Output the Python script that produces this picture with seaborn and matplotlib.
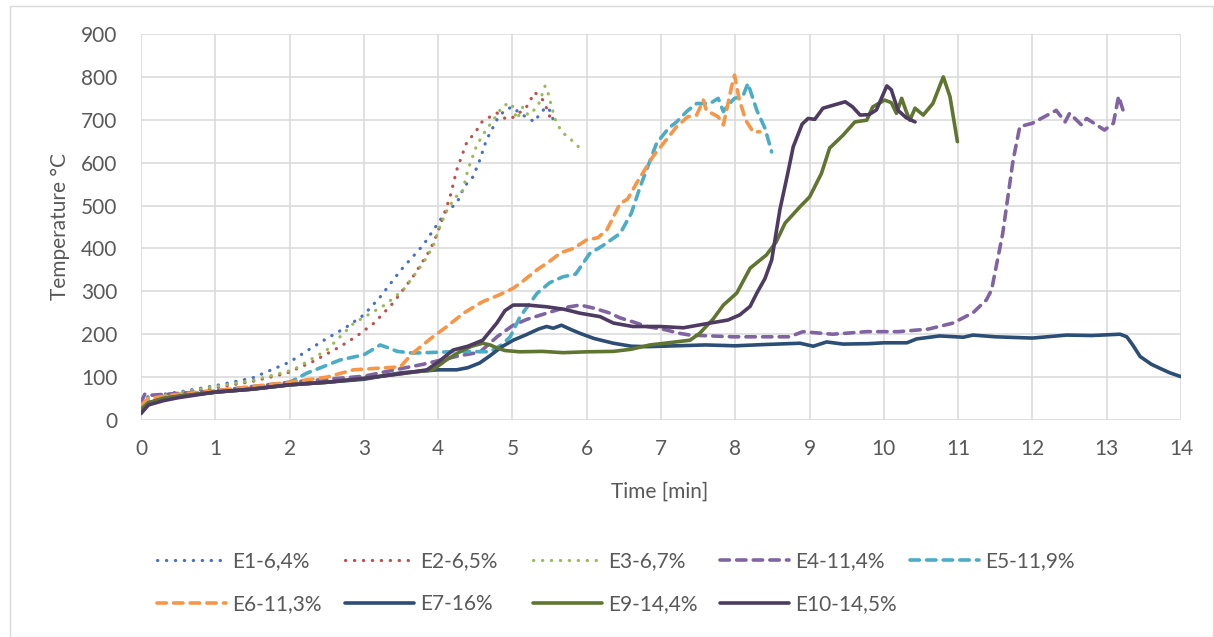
import numpy as np
import pandas as pd
import matplotlib
matplotlib.use("Agg")
import matplotlib.pyplot as plt
import seaborn as sns
from matplotlib.patches import Rectangle

# ---------------- data ----------------
names = ["E1-6,4%", "E2-6,5%", "E3-6,7%", "E4-11,4%", "E5-11,9%",
         "E6-11,3%", "E7-16%", "E9-14,4%", "E10-14,5%"]

e1_t = [0, 0.1, 0.5, 1, 1.5, 2, 2.25, 2.5, 2.75, 3, 3.22, 3.5, 3.8, 4.1, 4.25, 4.35, 4.47, 4.56,
        4.65, 4.72, 4.8, 4.9, 5.0, 5.1, 5.2, 5.3, 5.37, 5.46, 5.5, 5.55]
e1_T = [40, 55, 65, 80, 98, 135, 163, 190, 215, 245, 287, 350, 408, 485, 505, 544, 567, 606,
        653, 676, 703, 723, 730, 715, 705, 695, 715, 730, 722, 700]

e2_t = [0, 0.1, 0.5, 1, 1.5, 1.96, 2.3, 2.68, 2.9, 3.13, 3.22, 3.39, 3.66, 3.89, 3.98, 4.16, 4.25,
        4.38, 4.52, 4.59, 4.67, 4.79, 4.92, 5.03, 5.19, 5.3, 5.41, 5.46, 5.53]
e2_T = [35, 50, 62, 75, 90, 109, 135, 171, 195, 225, 241, 272, 334, 396, 431, 520, 583,
        645, 676, 695, 704, 716, 701, 707, 730, 764, 746, 727, 695]

e3_t = [0, 0.1, 0.5, 1, 1.5, 2.05, 2.5, 2.86, 3.28, 3.53, 3.8, 3.93, 4.02, 4.11, 4.23, 4.32, 4.4,
        4.52, 4.63, 4.74, 4.88, 4.99, 5.06, 5.14, 5.21, 5.34, 5.44, 5.48, 5.57, 5.66, 5.77, 5.89]
e3_T = [38, 52, 63, 78, 92, 117, 163, 225, 268, 303, 366, 404, 450, 486, 520, 528, 583,
        641, 672, 699, 734, 738, 701, 730, 711, 730, 779, 762, 703, 672, 657, 637]

e4_t = [0, 0.05, 0.15, 0.5, 1, 1.5, 2, 2.5, 3, 3.39, 3.8, 4.29, 4.56, 4.8, 5.01, 5.2, 5.46, 5.7,
        5.91, 6.09, 6.3, 6.45, 6.62, 6.81, 7.07, 7.25, 7.39, 7.97, 8.42, 8.73, 8.91, 9.31, 9.77,
        10.2, 10.6, 10.93, 11.2, 11.38, 11.45, 11.6, 11.74, 11.83, 12.0, 12.32, 12.44, 12.5,
        12.66, 12.73, 12.97, 13.09, 13.16, 13.24]
e4_T = [40, 60, 58, 62, 68, 78, 88, 95, 102, 116, 130, 150, 158, 195, 221, 235, 249, 262,
        268, 261, 250, 238, 229, 218, 210, 202, 198, 194, 194, 194, 206, 200, 206,
        206, 212, 226, 250, 280, 303, 435, 606, 684, 692, 722, 695, 715,
        688, 703, 676, 692, 755, 711]

e5_t = [0, 0.1, 0.5, 1, 1.5, 2, 2.23, 2.68, 3.0, 3.22, 3.3, 3.45, 3.66, 4.0, 4.3, 4.7, 4.85, 4.97,
        5.1, 5.33, 5.5, 5.68, 5.85, 6.04, 6.22, 6.45, 6.6, 6.72, 6.94, 7.1, 7.21, 7.35, 7.48,
        7.66, 7.77, 7.84, 7.9, 7.99, 8.1, 8.17, 8.29, 8.4, 8.49]
e5_T = [30, 45, 55, 65, 75, 88, 109, 140, 152, 175, 170, 160, 156, 158, 160, 159, 175, 194,
        240, 295, 320, 334, 340, 388, 407, 435, 482, 544, 645, 680, 695, 720, 738,
        738, 750, 719, 734, 750, 754, 785, 722, 680, 625]

e6_t = [0, 0.1, 0.5, 1, 1.5, 2, 2.5, 2.86, 3.22, 3.49, 3.66, 3.9, 4.11, 4.35, 4.6, 4.8, 5.01, 5.15,
        5.33, 5.5, 5.65, 5.82, 6.0, 6.15, 6.27, 6.45, 6.55, 6.67, 6.89, 7.12, 7.21, 7.36, 7.48,
        7.57, 7.61, 7.77, 7.84, 7.95, 7.99, 8.05, 8.14, 8.24, 8.33]
e6_T = [35, 50, 60, 68, 78, 88, 100, 117, 121, 124, 156, 190, 217, 250, 276, 290, 307, 325,
        350, 370, 390, 400, 420, 425, 443, 505, 515, 552, 614, 664, 684, 707, 711,
        746, 722, 707, 688, 777, 804, 750, 699, 672, 672]

e7_t = [0, 0.1, 0.3, 0.5, 1, 1.5, 2, 2.5, 3, 3.5, 4, 4.25, 4.4, 4.56, 4.7, 4.85, 5.01, 5.2, 5.35,
        5.46, 5.55, 5.66, 5.8, 5.91, 6.1, 6.36, 6.6, 6.81, 7.2, 7.6, 8.0, 8.4, 8.87, 9.05, 9.23,
        9.45, 9.8, 10.0, 10.31, 10.44, 10.75, 11.07, 11.2, 11.5, 12.0, 12.46, 12.8, 13.18,
        13.27, 13.35, 13.45, 13.6, 13.71, 13.85, 14.0]
e7_T = [20, 40, 50, 55, 65, 72, 82, 88, 95, 110, 117, 117, 122, 133, 150, 170, 186, 200, 212,
        218, 214, 221, 210, 202, 190, 179, 172, 171, 173, 175, 173, 176, 179, 172, 182,
        177, 178, 180, 180, 189, 196, 193, 198, 194, 191, 198, 197, 200,
        194, 175, 148, 130, 121, 110, 101]

e9_t = [0, 0.1, 0.3, 0.5, 1, 1.5, 2, 2.5, 3, 3.5, 3.93, 4.11, 4.3, 4.45, 4.6, 4.7, 4.79, 4.9, 5.1,
        5.4, 5.68, 6.0, 6.36, 6.6, 6.85, 7.1, 7.39, 7.52, 7.7, 7.84, 8.02, 8.2, 8.42, 8.55, 8.67,
        8.87, 9.0, 9.16, 9.27, 9.45, 9.61, 9.77, 9.85, 10.01, 10.1, 10.17, 10.24, 10.3, 10.35,
        10.42, 10.53, 10.66, 10.8, 10.89, 10.99]
e9_T = [25, 40, 50, 55, 65, 72, 82, 88, 97, 108, 117, 140, 160, 172, 179, 175, 168, 162, 159,
        160, 157, 159, 160, 165, 175, 180, 186, 202, 235, 268, 296, 354, 385, 415, 459,
        497, 520, 575, 634, 664, 695, 699, 730, 746, 740, 715, 750, 720, 699,
        727, 711, 738, 800, 754, 649]

e10_t = [0, 0.1, 0.3, 0.5, 1, 1.5, 2, 2.5, 3, 3.5, 3.85, 4.0, 4.2, 4.4, 4.6, 4.79, 4.9, 5.01, 5.2,
         5.46, 5.7, 5.91, 6.18, 6.36, 6.62, 6.81, 6.99, 7.3, 7.66, 7.9, 8.06, 8.2, 8.29, 8.4,
         8.49, 8.6, 8.7, 8.78, 8.9, 8.98, 9.07, 9.18, 9.3, 9.48, 9.58, 9.68, 9.8, 9.9, 10.04,
         10.1, 10.19, 10.3, 10.42]
e10_T = [15, 35, 45, 52, 65, 72, 82, 88, 97, 108, 117, 135, 163, 172, 186, 226, 255, 268, 268,
         264, 258, 249, 241, 226, 218, 218, 218, 215, 226, 233, 245, 265, 296, 330,
         373, 490, 570, 637, 690, 703, 701, 727, 733, 742, 730, 711, 712, 723, 779,
         770, 722, 705, 695]

x_ticks = list(range(0, 15))
y_ticks = list(range(0, 1000, 100))

# ---------------- styling ----------------
colors = ["#4472C4", "#C0504D", "#9BBB59", "#8064A2", "#4BACC6",
          "#F79646", "#2C4D75", "#5F7530", "#4D3B62"]
dot = (0, (0.1, 2.7))
dash = (0, (2.6, 2.0))
styles = [dot, dot, dot, dash, dash, dash, "-", "-", "-"]
widths = [2.3, 2.3, 2.3, 2.6, 2.6, 2.6, 2.6, 2.6, 2.6]

series = [(e1_t, e1_T), (e2_t, e2_T), (e3_t, e3_T), (e4_t, e4_T), (e5_t, e5_T),
          (e6_t, e6_T), (e7_t, e7_T), (e9_t, e9_T), (e10_t, e10_T)]

sns.set_theme(style="white")
plt.rcParams["font.family"] = ["Lato", "DejaVu Sans"]
txt = "#595959"
fs = 15

fig = plt.figure(figsize=(12.14, 6.37), dpi=100)
ax = fig.add_axes([141 / 1214, 1 - 420 / 637, 1040 / 1214, 386 / 637])

for (t, T), name, c, ls, lw in zip(series, names, colors, styles, widths):
    df = pd.DataFrame({"Time": t, "Temp": T})
    sns.lineplot(data=df, x="Time", y="Temp", ax=ax, color=c, linestyle=ls,
                 linewidth=lw, label=name, sort=False, estimator=None,
                 dash_capstyle="round", solid_capstyle="round", solid_joinstyle="round")

if ax.get_legend() is not None:
    ax.get_legend().remove()

ax.set_xlim(0, 14)
ax.set_ylim(0, 900)
ax.set_xticks(x_ticks)
ax.set_yticks(y_ticks)
ax.grid(True, color="#D9D9D9", linewidth=1.1)
ax.set_axisbelow(True)
for s in ax.spines.values():
    s.set_visible(False)
ax.tick_params(axis="both", length=0, labelsize=fs, labelcolor=txt)
ax.tick_params(axis="y", pad=17)
ax.tick_params(axis="x", pad=14)

ax.set_xlabel("Time [min]", fontsize=fs, color=txt)
ax.set_ylabel("Temperature °C", fontsize=fs, color=txt)
ax.xaxis.set_label_coords(0.499, -0.161)
ax.yaxis.set_label_coords(-0.068, 0.5)

# legend: 5 equal-width columns, 2 rows (row-major like the reference)
handles, labels = ax.get_legend_handles_labels()
col_x = [157, 345, 533, 720, 910]
for j, x in enumerate(col_x):
    idx = [i for i in (j, j + 5) if i < len(handles)]
    leg = fig.legend([handles[i] for i in idx], [labels[i] for i in idx],
                     loc="upper left", bbox_to_anchor=(x / 1214, 1 - 551 / 637),
                     ncol=1, frameon=False, fontsize=fs, handlelength=3.3,
                     handletextpad=0.3, labelspacing=1.1,
                     borderpad=0.0, borderaxespad=0.0)
    for tx in leg.get_texts():
        tx.set_color(txt)

# outer chart frame
fig.patches.append(Rectangle((10 / 1214, 0.5 / 637), 1203 / 1214, 631 / 637,
                             transform=fig.transFigure, fill=False,
                             edgecolor="#D9D9D9", linewidth=1.0))

fig.savefig("out.png", dpi=100, facecolor="white")
